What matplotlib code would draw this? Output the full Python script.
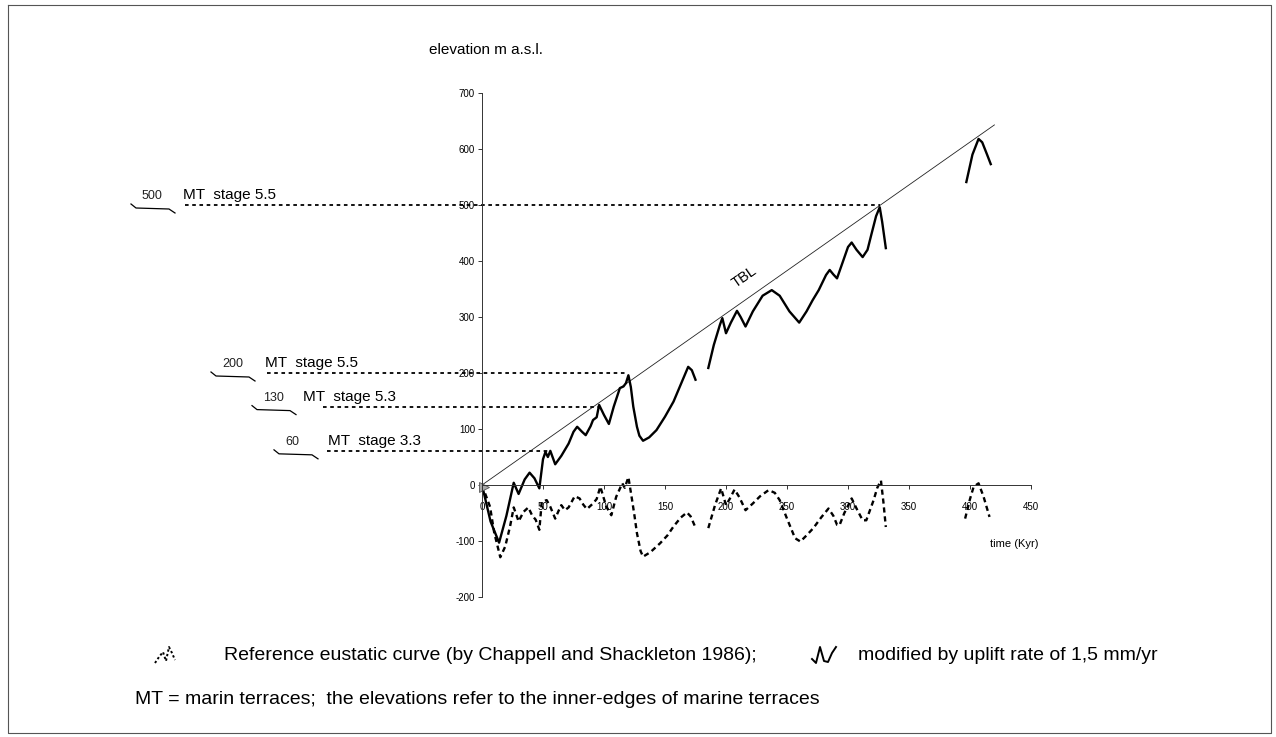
import numpy as np
import matplotlib
matplotlib.use("Agg")
import matplotlib.pyplot as plt

plt.rcParams["font.family"] = ["Liberation Sans", "DejaVu Sans"]

# ---------------------------------------------------------------------------
# Data (time in kyr, elevation in m a.s.l.).
# NaN separates the gaps in each curve.
# ---------------------------------------------------------------------------
nan = np.nan

# modified curve (eustatic + uplift of 1.5 mm/yr), solid
mod_t = [0, 7, 14, 20, 26, 30, 35, 39, 43, 47, 50, 52, 54, 56, 60, 65, 71, 75,
         78, 82, 85, 89, 91, 94, 96, 100, 104, 108, 113, 116, 118, 120, 122,
         124, 127, 129, 132, 137, 143, 150, 157, 163, 169, 172, 175,
         nan,
         185.5, 190, 195, 197, 200, 204, 209, 212, 216, 222, 230, 237.5, 244,
         252, 260, 266, 271, 276, 282, 285, 288, 291, 296, 300, 303, 307, 312,
         316, 319, 323, 326, 328, 331,
         nan,
         397, 402, 407, 410, 414, 417]
mod_y = [0, -65, -103, -55, 4, -16, 10, 22, 12, -6, 46, 59, 50, 61, 37, 52, 74,
         95, 104, 95, 89, 105, 116, 121, 143, 125, 109, 140, 173, 176, 182, 196,
         175, 140, 104, 88, 79, 85, 98, 122, 149, 180, 211, 205, 188,
         nan,
         209, 250, 286, 298, 271, 290, 311, 300, 283, 310, 338, 348, 338, 310,
         290, 310, 330, 348, 375, 384, 376, 369, 400, 425, 433, 420, 407, 420,
         446, 480, 496, 470, 423,
         nan,
         541, 590, 618, 612, 590, 573]

# reference eustatic curve (Chappell and Shackleton 1986), dashed
eus_t = [0, 6.6, 10, 15, 19, 23, 26, 30, 34, 38, 41, 44, 47, 49, 53, 56, 60,
         63, 65, 68, 71, 76, 80, 83, 86, 91, 94, 97, 100, 102, 106, 110, 115,
         117, 120, 122.6, 125, 127, 130, 132, 138, 146, 152, 157, 163, 168,
         171, 174.6,
         nan,
         185.5, 191, 196, 200, 203, 207, 211, 216, 222, 228, 235, 240, 244, 250,
         256.6, 261, 266, 271.6, 278, 284, 288, 291, 293, 297, 303, 307, 312,
         315, 318, 321, 324, 327, 329, 331,
         nan,
         396, 400, 403, 407, 411, 416]
eus_y = [0, -39, -85, -129, -110, -74, -40, -65, -48, -40, -54, -62, -80, -30,
         -27, -39, -60, -45, -36, -45, -40, -20, -24, -35, -43, -33, -25, -3,
         -25, -39, -54, -21, 3, -5, 14, -21, -55, -86, -118, -128, -120, -104,
         -90, -74, -58, -49, -56, -74,
         nan,
         -77, -36, -6, -36, -25, -8, -22, -45, -33, -20, -9, -14, -27, -60, -95,
         -101, -90, -77, -58, -42, -55, -71, -72, -50, -24, -42, -63, -63, -45,
         -27, -5, 8, -30, -75,
         nan,
         -60, -25, -3, 3, -20, -57]

# the "TBL" line
tbl_t = [0, 420]
tbl_y = [0, 643]

# marine terrace levels: drawn level, label, stage, time where it meets the curve
mt_level = [500, 200, 140, 61]
mt_label = ["500", "200", "130", "60"]
mt_stage = ["5.5", "5.5", "5.3", "3.3"]
mt_end_t = [326, 120, 95, 54]

x_ticks = [0, 50, 100, 150, 200, 250, 300, 350, 400, 450]
y_ticks = [-200, -100, 0, 100, 200, 300, 400, 500, 600, 700]

# ---------------------------------------------------------------------------
W, H = 1276, 737
fig = plt.figure(figsize=(W / 100, H / 100), dpi=100)

# overlay in pixel coordinates for the free-hand decorations
ov = fig.add_axes([0, 0, 1, 1], zorder=0)
ov.set_xlim(0, W)
ov.set_ylim(H, 0)
ov.set_axis_off()

X0, X1 = 482, 1031   # px of t=0 and t=450
Y0, Y1 = 597, 93     # px of -200 and 700
ax = fig.add_axes([X0 / W, 1 - Y0 / H, (X1 - X0) / W, (Y0 - Y1) / H],
                  zorder=1)
ax.patch.set_alpha(0)
ax.set_xlim(0, 450)
ax.set_ylim(-200, 700)

for s in ("top", "right"):
    ax.spines[s].set_visible(False)
ax.spines["bottom"].set_position(("data", 0))
for s in ("left", "bottom"):
    ax.spines[s].set_linewidth(0.7)
    ax.spines[s].set_color("#333333")

ax.set_xticks(x_ticks)
ax.set_yticks(y_ticks)
ax.set_xticklabels([str(v) for v in x_ticks])
ax.set_yticklabels([str(v) for v in y_ticks])
ax.tick_params(axis="both", labelsize=7, length=3, width=0.7, color="#333333")
ax.tick_params(axis="x", pad=9)
ax.tick_params(axis="y", pad=2)

# curves
ax.plot(tbl_t, tbl_y, color="#222222", lw=0.6, clip_on=False)
ax.plot(mod_t, mod_y, color="black", lw=1.7, clip_on=False)
ax.plot(eus_t, eus_y, color="black", lw=1.7, ls=(0, (2.2, 1.6)), clip_on=False)
ax.plot([2], [-3], marker=">", ms=7, mfc="#aaaaaa", mec="#555555", mew=0.6,
        clip_on=False)

ax.text(215, 372, "TBL", rotation=35, fontsize=10.5, ha="center", va="center")
ax.text(456, -105, "time (Kyr)", fontsize=8, ha="right", va="center")

# marine terrace annotations
def px_to_t(px):
    return (px - X0) / (X1 - X0) * 450

num_x = [142, 222, 263, 285]      # px of the number labels
stage_x = [183, 265, 303, 328]    # px of the "MT stage" labels
dash_x = [185, 267, 323, 327]     # px where the dotted level line starts
for lvl, lab, stg, te, nx, sx, dx in zip(mt_level, mt_label, mt_stage,
                                         mt_end_t, num_x, stage_x, dash_x):
    ax.plot([px_to_t(dx), te], [lvl, lvl], color="black", lw=1.3,
            ls=(0, (2.0, 2.0)), clip_on=False)
    ypx = Y0 - (lvl + 200) / 900 * (Y0 - Y1)
    ov.text(sx, ypx - 3, f"MT  stage {stg}", fontsize=11, ha="left",
            va="bottom")
    ov.text(nx, ypx - 3, lab, fontsize=9, ha="left", va="bottom",
            color="#222222")
    # hand-drawn hook under the number
    hx = [nx - 11, nx - 6, nx + 27, nx + 33]
    hy = [ypx - 1, ypx + 3, ypx + 4, ypx + 8]
    ov.plot(hx, hy, color="black", lw=0.9)

ov.text(486, 50, "elevation m a.s.l.", fontsize=11, ha="center", va="center")

# legend row
LY = 655
ov.plot([155, 159, 163, 166, 169, 172, 175], [LY + 8, LY + 2, LY - 3, LY + 6,
                                              LY - 8, LY - 2, LY + 5],
        color="black", lw=1.4, ls=(0, (1.2, 1.2)))
ov.text(224, LY, "Reference eustatic curve (by Chappell and Shackleton 1986);",
        fontsize=14, ha="left", va="center")
ov.plot([812, 816, 820, 824, 828, 832, 836], [LY + 4, LY + 8, LY - 8, LY + 6,
                                              LY + 7, LY - 2, LY - 8],
        color="black", lw=1.4)
ov.text(858, LY, "modified by uplift rate of 1,5 mm/yr", fontsize=14,
        ha="left", va="center")
ov.text(135, 700, "MT = marin terraces;  the elevations refer to the "
        "inner-edges of marine terraces", fontsize=14, ha="left", va="center")

# outer frame
ov.plot([8, 1271, 1271, 8, 8], [5, 5, 733, 733, 5], color="#555555", lw=0.8)

fig.savefig("out.png", dpi=100)
